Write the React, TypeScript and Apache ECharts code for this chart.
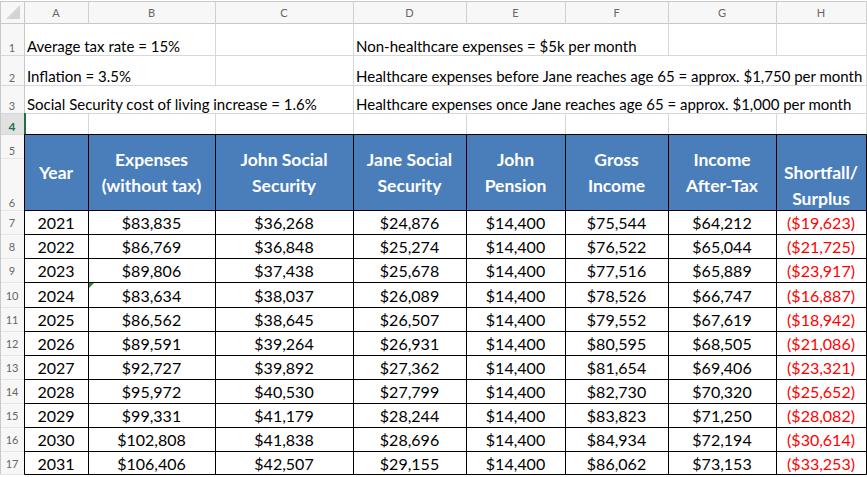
import React, { useEffect, useRef } from "react";
import * as echarts from "echarts";

// ---------- data ----------
const COLUMN_LETTERS = ["A", "B", "C", "D", "E", "F", "G", "H"];
const NOTES_LEFT = [
  "Average tax rate = 15%",
  "Inflation = 3.5%",
  "Social Security cost of living increase = 1.6%",
];
const NOTES_RIGHT = [
  "Non-healthcare expenses = $5k per month",
  "Healthcare expenses before Jane reaches age 65 = approx. $1,750 per month",
  "Healthcare expenses once Jane reaches age 65 = approx. $1,000 per month",
];
const HEADERS = [
  ["Year"],
  ["Expenses", "(without tax)"],
  ["John Social", "Security"],
  ["Jane Social", "Security"],
  ["John", "Pension"],
  ["Gross", "Income"],
  ["Income", "After-Tax"],
  ["Shortfall/", "Surplus"],
];
const YEARS = [2021, 2022, 2023, 2024, 2025, 2026, 2027, 2028, 2029, 2030, 2031];
const EXPENSES = [83835, 86769, 89806, 83634, 86562, 89591, 92727, 95972, 99331, 102808, 106406];
const JOHN_SS = [36268, 36848, 37438, 38037, 38645, 39264, 39892, 40530, 41179, 41838, 42507];
const JANE_SS = [24876, 25274, 25678, 26089, 26507, 26931, 27362, 27799, 28244, 28696, 29155];
const JOHN_PENSION = [14400, 14400, 14400, 14400, 14400, 14400, 14400, 14400, 14400, 14400, 14400];
const GROSS_INCOME = [75544, 76522, 77516, 78526, 79552, 80595, 81654, 82730, 83823, 84934, 86062];
const INCOME_AFTER_TAX = [64212, 65044, 65889, 66747, 67619, 68505, 69406, 70320, 71250, 72194, 73153];
const SHORTFALL = [-19623, -21725, -23917, -16887, -18942, -21086, -23321, -25652, -28082, -30614, -33253];

// ---------- layout (sheet units) ----------
const COL_X = [0, 24, 88, 215, 353, 466, 565, 668, 776, 866];
const ROW_Y = [1, 23, 55, 85, 113, 134, 158, 210, 234, 258, 282, 307, 331, 355, 379, 403, 427, 451, 474];
const FONT = "Lato, 'Open Sans', sans-serif";
const BLUE = "#4a7ebb";
const GRID = "#d8d8d8";

const money = (v: number) => {
  const s = "$" + Math.abs(v).toLocaleString("en-US");
  return v < 0 ? "(" + s + ")" : s;
};

type Cell = {
  c0: number; c1: number; r0: number; r1: number;
  lines: string[]; kind: string; align?: string; valign?: string;
};

const CELLS: Cell[] = [];
// column letters
COLUMN_LETTERS.forEach((l, i) => CELLS.push({ c0: i + 1, c1: i + 2, r0: 0, r1: 1, lines: [l], kind: "colhead" }));
// row numbers
for (let r = 1; r <= 17; r++) {
  CELLS.push({ c0: 0, c1: 1, r0: r, r1: r + 1, lines: [String(r)], kind: r === 4 ? "rownumSel" : "rownum", valign: r <= 6 ? "bottom" : "middle" });
}
// notes
NOTES_LEFT.forEach((t, i) => CELLS.push({ c0: 1, c1: 9, r0: i + 1, r1: i + 2, lines: [t], kind: "note", align: "left", valign: "bottom" }));
NOTES_RIGHT.forEach((t, i) => CELLS.push({ c0: 4, c1: 9, r0: i + 1, r1: i + 2, lines: [t], kind: "note", align: "left", valign: "bottom" }));
// header
HEADERS.forEach((h, i) => CELLS.push({ c0: i + 1, c1: i + 2, r0: 5, r1: 7, lines: h, kind: "header", valign: i === 7 ? "bottom" : "middle" }));
// body
const COLUMNS = [YEARS, EXPENSES, JOHN_SS, JANE_SS, JOHN_PENSION, GROSS_INCOME, INCOME_AFTER_TAX, SHORTFALL];
YEARS.forEach((_, r) => {
  COLUMNS.forEach((col, c) => {
    const v = col[r];
    CELLS.push({
      c0: c + 1, c1: c + 2, r0: 7 + r, r1: 8 + r,
      lines: [c === 0 ? String(v) : money(v)],
      kind: c === 7 && v < 0 ? "bodyRed" : "body",
    });
  });
});

const STYLE: Record<string, any> = {
  colhead: { fill: "#666", fontSize: 11, fontWeight: 400 },
  rownum: { fill: "#666", fontSize: 11, fontWeight: 400 },
  rownumSel: { fill: "#1e7145", fontSize: 12, fontWeight: 700 },
  note: { fill: "#000", fontSize: 15, fontWeight: 400 },
  header: { fill: "#fff", fontSize: 17.5, fontWeight: 700 },
  body: { fill: "#000", fontSize: 16, fontWeight: 400 },
  bodyRed: { fill: "#ff0000", fontSize: 16, fontWeight: 400 },
};

export default function App() {
  const ref = useRef<HTMLDivElement>(null);
  useEffect(() => {
    if (!ref.current) return;
    const chart = echarts.init(ref.current, undefined, { renderer: "svg" });

    const line = (api: any, x0: number, y0: number, x1: number, y1: number, stroke: string, w = 1) => {
      const a = api.coord([x0, y0]);
      const b = api.coord([x1, y1]);
      const off = w % 2 === 1 ? 0.5 : 0;
      return {
        type: "line",
        shape: { x1: Math.round(a[0]) + off, y1: Math.round(a[1]) + off, x2: Math.round(b[0]) + off, y2: Math.round(b[1]) + off },
        style: { stroke, lineWidth: w },
        silent: true,
      };
    };
    const rect = (api: any, x0: number, y0: number, x1: number, y1: number, fill: string) => {
      const a = api.coord([x0, y0]);
      const b = api.coord([x1, y1]);
      return { type: "rect", shape: { x: a[0], y: a[1], width: b[0] - a[0], height: b[1] - a[1] }, style: { fill }, silent: true };
    };

    const renderGrid = (_p: any, api: any) => {
      const X = COL_X, Y = ROW_Y;
      const ch: any[] = [];
      // backgrounds
      ch.push(rect(api, 0, Y[0], X[9], Y[1], "#f7f7f7"));
      ch.push(rect(api, 0, Y[1], X[1], Y[18], "#f7f7f7"));
      ch.push(rect(api, 0, Y[4], X[1], Y[5], "#e1e1e1"));
      // corner triangle
      const t0 = api.coord([6, 19]);
      const t1 = api.coord([20, 5]);
      ch.push({ type: "polygon", shape: { points: [[t1[0], t0[1]], [t1[0], t1[1]], [t0[0], t0[1]]] }, style: { fill: "#d4d4d4" }, silent: true });
      // top line and column-letter separators
      ch.push(line(api, 0, Y[0], X[9], Y[0], "#c8c8c8"));
      ch.push(line(api, 0, Y[1], X[9], Y[1], "#c8c8c8"));
      for (let c = 1; c <= 9; c++) ch.push(line(api, X[c], Y[0], X[c], Y[1], "#d0d0d0"));
      // horizontal gridlines rows 1-4
      for (let r = 2; r <= 4; r++) ch.push(line(api, 0, Y[r], X[9], Y[r], GRID));
      ch.push(line(api, 0, Y[5], X[1], Y[5], GRID));
      ch.push(line(api, 0, Y[6], X[1], Y[6], "#e6e6e6"));
      for (let r = 7; r <= 18; r++) ch.push(line(api, 0, Y[r], X[1], Y[r], "#e6e6e6"));
      // vertical gridlines, rows 1-3 (where text does not overflow)
      const vis: Record<number, number[]> = { 3: [1, 2], 4: [1, 2, 3], 7: [1], 8: [1] };
      Object.keys(vis).forEach((k) => {
        const c = Number(k);
        vis[c].forEach((r) => ch.push(line(api, X[c], Y[r], X[c], Y[r + 1], GRID)));
      });
      // row 4 verticals
      for (let c = 2; c <= 9; c++) ch.push(line(api, X[c], Y[4], X[c], Y[5], GRID));
      ch.push(line(api, X[9], Y[1], X[9], Y[5], GRID));
      // row number column separator and left edge
      ch.push(line(api, X[1], Y[0], X[1], Y[18], "#c8c8c8"));
      ch.push(line(api, 0, Y[0], 0, Y[18], "#c8c8c8", 2));
      // selection marker
      ch.push(line(api, X[1] + 1, Y[4], X[1] + 1, Y[5], "#1e7145", 2));
      // header fill
      ch.push(rect(api, X[1], Y[5], X[9], Y[7], BLUE));
      // table borders
      for (let c = 1; c <= 9; c++) ch.push(line(api, X[c], Y[5], X[c], Y[18], "#000"));
      ch.push(line(api, X[1], Y[5], X[9], Y[5], "#000"));
      for (let r = 7; r <= 18; r++) ch.push(line(api, X[1], Y[r], X[9], Y[r], "#000"));
      ch.push(line(api, X[9], Y[6], X[9] + 2, Y[6], "#000"));
      // error indicator triangle on B10
      const g0 = api.coord([X[2] + 1, Y[10] + 1]);
      ch.push({ type: "polygon", shape: { points: [[g0[0], g0[1]], [g0[0] + 5, g0[1]], [g0[0], g0[1] + 5]] }, style: { fill: "#1e8c3c" }, silent: true });
      return { type: "group", children: ch };
    };

    const renderCell = (p: any, api: any) => {
      const cell = CELLS[p.dataIndex];
      const st = STYLE[cell.kind];
      const a = api.coord([COL_X[cell.c0], ROW_Y[cell.r0]]);
      const b = api.coord([COL_X[cell.c1], ROW_Y[cell.r1]]);
      const lh = cell.kind === "header" ? 26 : 16;
      const n = cell.lines.length;
      let yStart: number;
      if (cell.valign === "bottom") {
        const pad = cell.kind === "header" ? 12 : cell.kind === "note" ? 9 : 8;
        yStart = b[1] - pad - (n - 1) * lh;
      } else {
        yStart = (a[1] + b[1]) / 2 + 0.5 - ((n - 1) * lh) / 2;
      }
      const x = cell.align === "left" ? a[0] + 3 : (a[0] + b[0]) / 2;
      const children = cell.lines.map((t, i) => ({
        type: "text",
        x,
        y: yStart + i * lh,
        style: {
          text: t,
          fill: st.fill,
          font: `${st.fontWeight} ${st.fontSize}px ${FONT}`,
          align: cell.align === "left" ? "left" : "center",
          verticalAlign: "middle",
        },
        silent: true,
      }));
      return { type: "group", children };
    };

    chart.setOption({
      animation: false,
      grid: { left: 0, top: 0, right: 0, bottom: 0 },
      xAxis: { type: "value", min: 0, max: 867, show: false },
      yAxis: { type: "value", min: 0, max: 477, inverse: true, show: false },
      series: [
        { type: "custom", renderItem: renderGrid, data: [[0, 0]], silent: true, clip: false },
        {
          type: "custom",
          renderItem: renderCell,
          data: CELLS.map((c) => [COL_X[c.c0], ROW_Y[c.r0]]),
          silent: true,
          clip: false,
        },
      ],
    });
    return () => chart.dispose();
  }, []);
  return (
    <div
      ref={ref}
      style={{ position: "fixed", left: 0, top: 0, width: 867, height: 477, background: "#fff" }}
    />
  );
}
